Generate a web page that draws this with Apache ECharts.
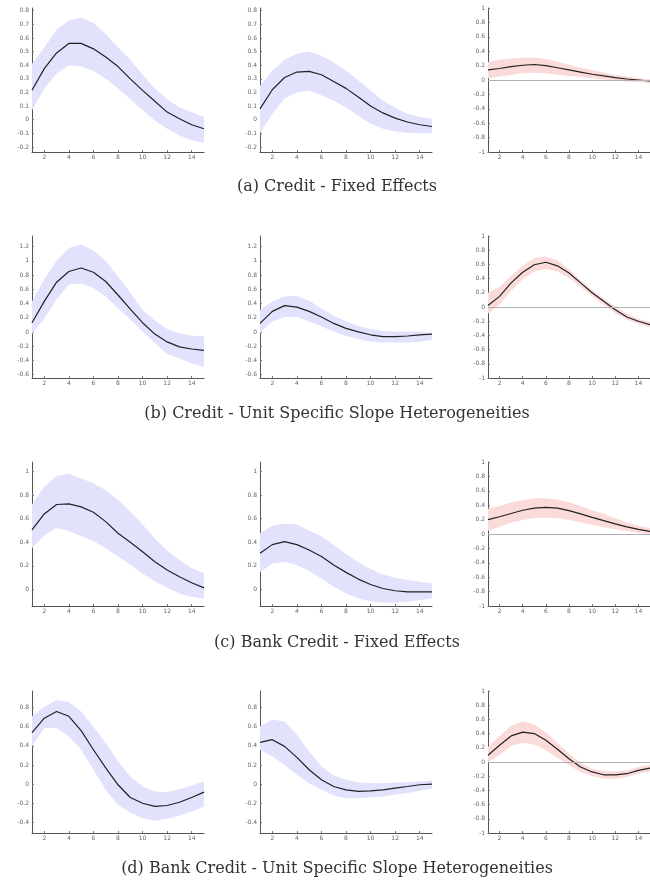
<!DOCTYPE html>
<html><head><meta charset="utf-8">
<script src="https://cdn.jsdelivr.net/npm/echarts@6/dist/echarts.min.js"></script>
<style>html,body{margin:0;padding:0;background:#fff}#c{width:650px;height:881px}</style>
</head><body><div id="c"></div>
<script>
// ---------- data ----------
const horizons = [1,2,3,4,5,6,7,8,9,10,11,12,13,14,15];
const xTicks = [2,4,6,8,10,12,14];
const yTicksA = [-0.2,-0.1,0,0.1,0.2,0.3,0.4,0.5,0.6,0.7,0.8];
const yTicksB = [-0.6,-0.4,-0.2,0,0.2,0.4,0.6,0.8,1,1.2];
const yTicksC = [0,0.2,0.4,0.6,0.8,1];
const yTicksD = [-0.4,-0.2,0,0.2,0.4,0.6,0.8];
const yTicksR = [-1,-0.8,-0.6,-0.4,-0.2,0,0.2,0.4,0.6,0.8,1];
const titles = [
  "(a) Credit - Fixed Effects",
  "(b) Credit - Unit Specific Slope Heterogeneities",
  "(c) Bank Credit - Fixed Effects",
  "(d) Bank Credit - Unit Specific Slope Heterogeneities"
];

// (a) Credit - Fixed Effects
const a1Mean = [0.216,0.375,0.49,0.56,0.56,0.52,0.46,0.39,0.30,0.215,0.135,0.056,0.007,-0.037,-0.066];
const a1Hi   = [0.41,0.53,0.66,0.73,0.75,0.71,0.63,0.53,0.44,0.33,0.23,0.15,0.09,0.056,0.02];
const a1Lo   = [0.07,0.23,0.34,0.40,0.39,0.36,0.30,0.23,0.15,0.07,-0.005,-0.066,-0.115,-0.15,-0.17];
const a2Mean = [0.08,0.22,0.31,0.35,0.355,0.33,0.28,0.23,0.167,0.10,0.05,0.012,-0.017,-0.037,-0.05];
const a2Hi   = [0.25,0.36,0.44,0.485,0.50,0.47,0.42,0.36,0.29,0.215,0.14,0.09,0.044,0.02,0.007];
const a2Lo   = [-0.10,0.044,0.155,0.20,0.213,0.18,0.14,0.09,0.03,-0.03,-0.066,-0.086,-0.096,-0.10,-0.10];
const a3Mean = [0.14,0.16,0.185,0.205,0.215,0.20,0.17,0.14,0.11,0.08,0.056,0.033,0.014,0,-0.014];
const a3Hi   = [0.25,0.28,0.30,0.31,0.31,0.29,0.255,0.215,0.17,0.14,0.10,0.07,0.047,0.023,0.01];
const a3Lo   = [0.02,0.047,0.07,0.093,0.10,0.093,0.074,0.056,0.04,0.023,0.01,-0.005,-0.02,-0.03,-0.045];
// (b) Credit - Unit Specific Slope Heterogeneities
const b1Mean = [0.13,0.43,0.70,0.85,0.90,0.84,0.71,0.52,0.32,0.13,-0.03,-0.14,-0.21,-0.24,-0.26];
const b1Hi   = [0.43,0.74,1.0,1.18,1.23,1.15,1.0,0.78,0.55,0.31,0.16,0.04,-0.02,-0.055,-0.065];
const b1Lo   = [-0.03,0.19,0.46,0.665,0.68,0.62,0.50,0.33,0.18,0.005,-0.16,-0.31,-0.37,-0.44,-0.49];
const b2Mean = [0.12,0.29,0.37,0.35,0.29,0.21,0.12,0.05,0,-0.04,-0.066,-0.066,-0.057,-0.04,-0.03];
const b2Hi   = [0.31,0.43,0.50,0.51,0.44,0.33,0.23,0.146,0.085,0.04,0.014,0.005,0.005,0.005,-0.01];
const b2Lo   = [-0.02,0.146,0.21,0.21,0.146,0.075,0.005,-0.057,-0.10,-0.137,-0.15,-0.15,-0.15,-0.137,-0.11];
const b3Mean = [0.02,0.15,0.34,0.49,0.595,0.63,0.58,0.48,0.34,0.20,0.08,-0.04,-0.14,-0.20,-0.25];
const b3Hi   = [0.20,0.28,0.44,0.58,0.69,0.71,0.655,0.53,0.38,0.24,0.12,0,-0.09,-0.165,-0.21];
const b3Lo   = [-0.09,0.03,0.23,0.39,0.50,0.54,0.50,0.41,0.28,0.15,0.03,-0.085,-0.18,-0.24,-0.285];
// (c) Bank Credit - Fixed Effects
const c1Mean = [0.505,0.64,0.72,0.725,0.70,0.654,0.575,0.476,0.40,0.32,0.235,0.165,0.108,0.057,0.014];
const c1Hi   = [0.72,0.87,0.96,0.98,0.94,0.90,0.84,0.76,0.66,0.55,0.43,0.33,0.25,0.18,0.136];
const c1Lo   = [0.35,0.46,0.52,0.495,0.45,0.41,0.35,0.28,0.21,0.136,0.07,0.014,-0.034,-0.062,-0.08];
const c2Mean = [0.306,0.38,0.405,0.38,0.334,0.28,0.207,0.145,0.088,0.042,0.008,-0.011,-0.02,-0.02,-0.02];
const c2Hi   = [0.476,0.54,0.56,0.55,0.50,0.45,0.377,0.30,0.23,0.173,0.127,0.10,0.08,0.065,0.05];
const c2Lo   = [0.145,0.22,0.235,0.207,0.156,0.093,0.023,-0.034,-0.076,-0.10,-0.11,-0.11,-0.105,-0.09,-0.076];
const c3Mean = [0.20,0.24,0.285,0.33,0.36,0.37,0.36,0.325,0.28,0.23,0.185,0.14,0.10,0.065,0.037];
const c3Hi   = [0.35,0.39,0.44,0.47,0.495,0.495,0.48,0.44,0.39,0.33,0.28,0.22,0.16,0.115,0.083];
const c3Lo   = [0.046,0.10,0.16,0.195,0.22,0.23,0.22,0.195,0.16,0.13,0.093,0.065,0.037,0.014,-0.005];
// (d) Bank Credit - Unit Specific Slope Heterogeneities
const d1Mean = [0.54,0.69,0.76,0.71,0.56,0.36,0.17,-0.007,-0.14,-0.20,-0.234,-0.224,-0.19,-0.14,-0.084];
const d1Hi   = [0.71,0.81,0.88,0.86,0.76,0.60,0.43,0.24,0.08,-0.024,-0.077,-0.084,-0.05,-0.014,0.028];
const d1Lo   = [0.395,0.587,0.587,0.50,0.36,0.15,-0.06,-0.217,-0.30,-0.357,-0.385,-0.364,-0.33,-0.287,-0.234];
const d2Mean = [0.437,0.465,0.395,0.28,0.15,0.045,-0.025,-0.06,-0.077,-0.07,-0.06,-0.042,-0.025,-0.007,0];
const d2Hi   = [0.605,0.675,0.657,0.517,0.343,0.185,0.09,0.045,0.02,0.01,0.01,0.017,0.02,0.028,0.035];
const d2Lo   = [0.36,0.29,0.20,0.098,0.01,-0.06,-0.12,-0.147,-0.147,-0.14,-0.13,-0.11,-0.094,-0.07,-0.049];
const d3Mean = [0.094,0.235,0.367,0.42,0.40,0.306,0.18,0.047,-0.07,-0.14,-0.18,-0.18,-0.165,-0.118,-0.085];
const d3Hi   = [0.21,0.367,0.51,0.574,0.527,0.42,0.27,0.118,-0.01,-0.094,-0.13,-0.13,-0.118,-0.07,-0.04];
const d3Lo   = [0,0.10,0.225,0.27,0.245,0.165,0.056,-0.047,-0.14,-0.198,-0.235,-0.235,-0.21,-0.165,-0.13];

// ---------- layout / style ----------
const BLUE = '#e2e2fd', PINK = '#fbdada';
const panels = [
  {m:a1Mean,h:a1Hi,l:a1Lo,t:yTicksA,min:-0.237,max:0.82,c:BLUE,z:false},
  {m:a2Mean,h:a2Hi,l:a2Lo,t:yTicksA,min:-0.237,max:0.82,c:BLUE,z:false},
  {m:a3Mean,h:a3Hi,l:a3Lo,t:yTicksR,min:-1,max:1,c:PINK,z:true},
  {m:b1Mean,h:b1Hi,l:b1Lo,t:yTicksB,min:-0.648,max:1.35,c:BLUE,z:false},
  {m:b2Mean,h:b2Hi,l:b2Lo,t:yTicksB,min:-0.648,max:1.35,c:BLUE,z:false},
  {m:b3Mean,h:b3Hi,l:b3Lo,t:yTicksR,min:-1,max:1,c:PINK,z:true},
  {m:c1Mean,h:c1Hi,l:c1Lo,t:yTicksC,min:-0.14,max:1.08,c:BLUE,z:false},
  {m:c2Mean,h:c2Hi,l:c2Lo,t:yTicksC,min:-0.14,max:1.08,c:BLUE,z:false},
  {m:c3Mean,h:c3Hi,l:c3Lo,t:yTicksR,min:-1,max:1,c:PINK,z:true},
  {m:d1Mean,h:d1Hi,l:d1Lo,t:yTicksD,min:-0.512,max:0.975,c:BLUE,z:false},
  {m:d2Mean,h:d2Hi,l:d2Lo,t:yTicksD,min:-0.512,max:0.975,c:BLUE,z:false},
  {m:d3Mean,h:d3Hi,l:d3Lo,t:yTicksR,min:-1,max:1,c:PINK,z:true}
];
const rowTop = [8, 236, 462, 691];
const rowH = [144, 142, 144, 142];
const colLeft = [32, 260, 488];
const gridW = 172;
const titleY = [187, 414, 643, 869];

const showTick = (idx, val) => xTicks.indexOf(Number(val)) >= 0;

const grid=[], xAxis=[], yAxis=[], series=[];
panels.forEach((p,i)=>{
  const r=Math.floor(i/3), c=i%3;
  grid.push({left:colLeft[c], top:rowTop[r], width:gridW, height:rowH[r], containLabel:false});
  xAxis.push({type:'category', gridIndex:i, data:horizons.map(String), boundaryGap:false,
    axisLine:{onZero:false, lineStyle:{color:'#555',width:1}},
    axisTick:{inside:true,length:2,interval:showTick,lineStyle:{color:'#777'}},
    axisLabel:{interval:showTick,fontSize:6,color:'#666',margin:2,fontFamily:'DejaVu Sans'},
    splitLine:{show:false}});
  yAxis.push({type:'value', gridIndex:i, min:p.min, max:p.max,
    axisLine:{show:true,onZero:false, lineStyle:{color:'#555',width:1}},
    axisTick:{show:true,inside:true,length:2,customValues:p.t,lineStyle:{color:'#777'}},
    axisLabel:{customValues:p.t,fontSize:6,color:'#666',margin:3,fontFamily:'DejaVu Sans',
      formatter:v=>String(Math.round(v*10)/10)},
    splitLine:{show:false}});
  const st='band'+i;
  series.push({type:'line', xAxisIndex:i, yAxisIndex:i, stack:st, stackStrategy:'all',
    data:p.l.slice(), symbol:'none', lineStyle:{opacity:0}, silent:true, z:1});
  series.push({type:'line', xAxisIndex:i, yAxisIndex:i, stack:st, stackStrategy:'all',
    data:p.h.map((v,k)=>v-p.l[k]), symbol:'none', lineStyle:{opacity:0},
    areaStyle:{color:p.c,opacity:1}, silent:true, z:1});
  const s={type:'line', xAxisIndex:i, yAxisIndex:i, data:p.m.slice(),
    symbol:'none', lineStyle:{color:'#222',width:1.2}, silent:true, z:3};
  if(p.z){
    s.markLine={silent:true,symbol:'none',label:{show:false},
      lineStyle:{color:'#b0b0b0',width:1,type:'solid'},data:[{yAxis:0}],animation:false};
  }
  series.push(s);
});

const graphic = titles.map((t,r)=>({type:'text', x:337, y:titleY[r],
  style:{text:t, fontFamily:'DejaVu Serif', fontSize:16, fill:'#333',
    textAlign:'center', textVerticalAlign:'middle'}}));

const chart = echarts.init(document.getElementById('c'), null, {renderer:'canvas'});
chart.setOption({animation:false, backgroundColor:'#fff', grid, xAxis, yAxis, series, graphic});
</script></body></html>
